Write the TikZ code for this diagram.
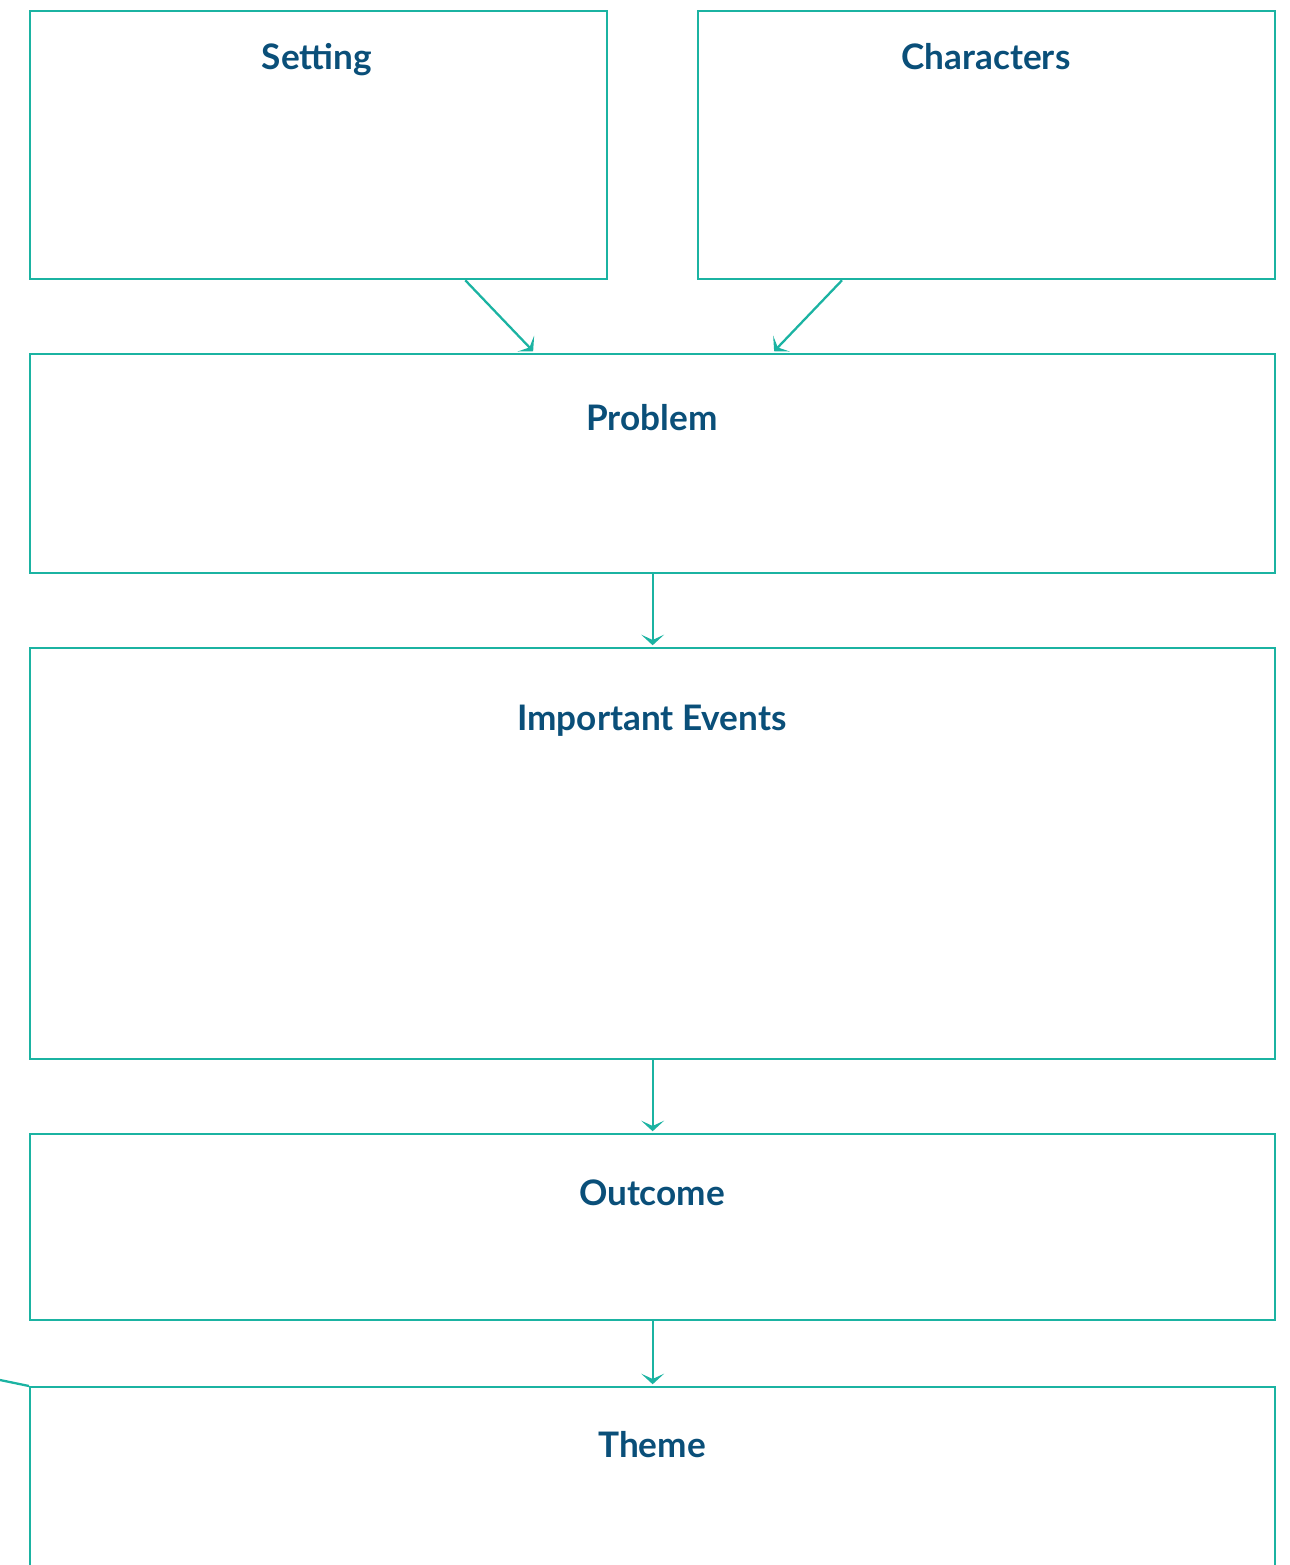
\documentclass[tikz,border=0pt]{standalone}
\usepackage{fontspec}
\setmainfont{Lato}
\usetikzlibrary{arrows.meta, positioning}

\definecolor{teal1}{HTML}{1BB3A2}
\definecolor{navy1}{HTML}{0A4F79}

\begin{document}
\begin{tikzpicture}[
  box/.style={rectangle, draw=teal1, line width=1.3pt, anchor=north west},
  title/.style={font=\fontsize{20}{22}\selectfont\bfseries, text=navy1, anchor=base},
  link/.style={-{Stealth[length=6pt, width=13pt, inset=3pt]}, draw=teal1, line width=1.3pt}
]
  \useasboundingbox (0,0) rectangle (25.78,-31.3);

  \node[box, minimum width=11.54cm, minimum height=5.36cm] (setting) at (0.58,-0.2) {};
  \node[box, minimum width=11.54cm, minimum height=5.36cm] (characters) at (13.94,-0.2) {};
  \node[box, minimum width=24.9cm, minimum height=4.38cm] (problem) at (0.58,-7.06) {};
  \node[box, minimum width=24.9cm, minimum height=8.22cm] (events) at (0.58,-12.94) {};
  \node[box, minimum width=24.9cm, minimum height=3.72cm] (outcome) at (0.58,-22.66) {};
  \node[box, minimum width=24.9cm, minimum height=5cm] (theme) at (0.58,-27.72) {};

  \node[title] (settingT) at (6.34,-1.4) {Setting};
  \node[title] (charactersT) at (19.72,-1.4) {Characters};
  \node[title] (problemT) at (13.04,-8.6) {Problem};
  \node[title] (eventsT) at (13.04,-14.6) {Important Events};
  \node[title] (outcomeT) at (13.04,-24.1) {Outcome};
  \node[title] (themeT) at (13.04,-29.14) {Theme};

  \coordinate (loose) at (0,-27.6);

  \draw[link] ([xshift=-2.86cm]setting.south east) -- ([xshift=-2.39cm,yshift=1pt]problem.north);
  \draw[link] ([xshift=2.9cm]characters.south west) -- ([xshift=2.43cm,yshift=1pt]problem.north);
  \draw[link] (problem.south) -- ([yshift=1pt]events.north);
  \draw[link] (events.south) -- ([yshift=1pt]outcome.north);
  \draw[link] (outcome.south) -- ([yshift=1pt]theme.north);
  \draw[teal1, line width=1.3pt] (loose) -- (theme.north west);
\end{tikzpicture}
\end{document}
